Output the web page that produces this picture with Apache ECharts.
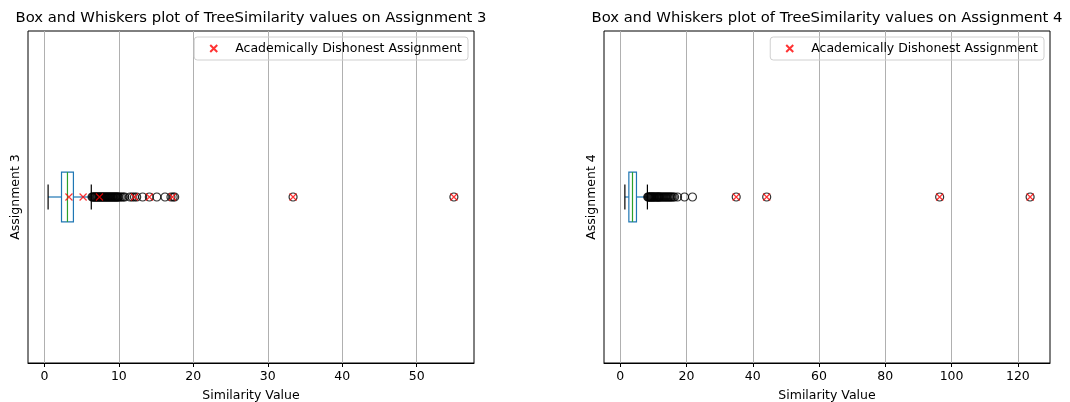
<!DOCTYPE html>
<html>
<head>
<meta charset="utf-8">
<script src="https://cdn.jsdelivr.net/npm/echarts@6/dist/echarts.min.js"></script>
<style>
  html, body { margin: 0; padding: 0; background: #fff; }
  #main { width: 1070px; height: 402px; }
</style>
</head>
<body>
<div id="main"></div>
<script>
// box stats: [lower cap, q1, median, q3, upper cap]
const a3Box = [0.5, 2.3, 3.1, 3.9, 6.3];
const a4Box = [1.4, 2.6, 3.7, 4.9, 8.2];

// fliers beyond the whiskers
const a3Outliers = [6.4, 6.5, 6.6, 6.7, 6.8, 6.9, 7.0, 7.1, 7.2, 7.3, 7.4, 7.5, 7.6, 7.7, 7.8, 7.9,
  8.0, 8.1, 8.2, 8.3, 8.4, 8.5, 8.6, 8.7, 8.8, 8.9, 9.0, 9.1, 9.2, 9.3, 9.4, 9.5, 9.6, 9.7, 9.8, 9.9,
  10.0, 10.2, 10.4, 10.6, 10.8, 11.5, 11.8, 12.1, 12.4, 13.2, 14.1, 15.1, 16.2, 17.0, 17.3, 17.5, 33.4, 55.0];
const a4Outliers = [8.3, 8.5, 8.7, 8.9, 9.1, 9.3, 9.5, 9.7, 9.9, 10.1, 10.3, 10.5, 10.8, 11.0, 11.2,
  11.4, 11.6, 11.8, 12.0, 12.3, 12.6, 12.9, 13.2, 13.5, 13.8, 14.1, 14.4, 14.7, 15.0, 15.3, 15.6,
  16.0, 16.4, 17.3, 19.4, 21.8, 35.0, 44.2, 96.4, 123.7];

// academically dishonest assignments
const a3Flagged = [3.3, 5.2, 7.4, 12.1, 14.1, 17.2, 33.4, 55.0];
const a4Flagged = [35.0, 44.2, 96.4, 123.7];

// tick labels
const a3Ticks = [0, 10, 20, 30, 40, 50];
const a4Ticks = [0, 20, 40, 60, 80, 100, 120];

const FONT = "DejaVu Sans";
const CROSS = "path://M0,0L10,10M0,10L10,0";
const LEGEND_NAME = "Academically Dishonest Assignment";

function renderBox(params, api) {
  const s = [0, 1, 2, 3, 4].map(i => api.value(i));
  const yTop = api.coord([0, 1.075])[1];
  const yBot = api.coord([0, 0.925])[1];
  const cTop = api.coord([0, 1.0375])[1];
  const cBot = api.coord([0, 0.9625])[1];
  const yMid = api.coord([0, 1])[1];
  const x = s.map(v => api.coord([v, 1])[0]);
  const line = (x1, y1, x2, y2, color) => ({
    type: "line",
    shape: { x1, y1, x2, y2 },
    style: { stroke: color, lineWidth: 1.2 }
  });
  return {
    type: "group",
    children: [
      line(x[0], yMid, x[1], yMid, "#1f77b4"),
      line(x[3], yMid, x[4], yMid, "#1f77b4"),
      line(x[0], cTop, x[0], cBot, "#000"),
      line(x[4], cTop, x[4], cBot, "#000"),
      {
        type: "rect",
        shape: { x: x[1], y: yTop, width: x[3] - x[1], height: yBot - yTop },
        style: { fill: "none", stroke: "#1f77b4", lineWidth: 1.2 }
      },
      line(x[2], yTop, x[2], yBot, "#2ca02c")
    ]
  };
}

function panel(idx, box, outliers, flagged, ticks, min, max) {
  return {
    grid: {
      left: idx === 0 ? 28 : 604,
      width: 446,
      top: 31,
      height: 332,
      outerBoundsMode: "none",
      containLabel: false,
      show: true,
      borderColor: "#000",
      borderWidth: 1
    },
    xAxis: {
      type: "value",
      gridIndex: idx,
      min: min,
      max: max,
      name: "Similarity Value",
      nameLocation: "middle",
      nameGap: 26,
      nameTextStyle: { fontFamily: FONT, fontSize: 12.5, color: "#000" },
      axisLine: { lineStyle: { color: "#000" } },
      axisTick: { show: true, length: 4, customValues: ticks, lineStyle: { color: "#000" } },
      axisLabel: { customValues: ticks, margin: 7, fontFamily: FONT, fontSize: 12.5, color: "#000" },
      splitLine: { show: true, lineStyle: { color: "#b0b0b0", width: 1 } }
    },
    yAxis: {
      type: "value",
      gridIndex: idx,
      min: 0.5,
      max: 1.5,
      name: "Assignment " + (idx + 3),
      nameLocation: "middle",
      nameGap: 6,
      nameTextStyle: { fontFamily: FONT, fontSize: 12.5, color: "#000" },
      axisLine: { show: false },
      axisTick: { show: false },
      axisLabel: { show: false },
      splitLine: { show: false }
    },
    series: [
      {
        type: "custom",
        xAxisIndex: idx,
        yAxisIndex: idx,
        renderItem: renderBox,
        data: [box],
        encode: { x: [0, 1, 2, 3, 4] },
        silent: true,
        z: 2
      },
      {
        type: "scatter",
        xAxisIndex: idx,
        yAxisIndex: idx,
        data: outliers.map(v => [v, 1]),
        symbol: "circle",
        symbolSize: 8,
        itemStyle: { color: "rgba(0,0,0,0)", borderColor: "#000", borderWidth: 1.2 },
        z: 3
      },
      {
        type: "scatter",
        name: LEGEND_NAME,
        xAxisIndex: idx,
        yAxisIndex: idx,
        data: flagged.map(v => [v, 1]),
        symbol: CROSS,
        symbolSize: 7,
        itemStyle: { color: "rgba(0,0,0,0)", borderColor: "#ff0000", borderWidth: 1.2 },
        z: 4
      }
    ]
  };
}

const p3 = panel(0, a3Box, a3Outliers, a3Flagged, a3Ticks, -2.2, 57.7);
const p4 = panel(1, a4Box, a4Outliers, a4Flagged, a4Ticks, -4.9, 129.7);

const legendBase = {
  data: [LEGEND_NAME],
  top: 37,
  orient: "horizontal",
  itemWidth: 7,
  itemHeight: 7,
  padding: [5, 6, 5, 15],
  borderColor: "#d0d0d0",
  borderWidth: 1,
  borderRadius: 3,
  selectedMode: false,
  textStyle: { fontFamily: FONT, fontSize: 12.5, color: "#000", padding: [0, 0, 0, 13] }
};

const option = {
  animation: false,
  backgroundColor: "#fff",
  title: [
    {
      text: "Box and Whiskers plot of TreeSimilarity values on Assignment 3",
      left: 246,
      top: 6,
      textAlign: "center",
      textStyle: { fontFamily: FONT, fontSize: 14.8, fontWeight: "normal", color: "#000" }
    },
    {
      text: "Box and Whiskers plot of TreeSimilarity values on Assignment 4",
      left: 822,
      top: 6,
      textAlign: "center",
      textStyle: { fontFamily: FONT, fontSize: 14.8, fontWeight: "normal", color: "#000" }
    }
  ],
  legend: [
    Object.assign({}, legendBase, { right: 1070 - 468 }),
    Object.assign({}, legendBase, { right: 1070 - 1044 })
  ],
  grid: [p3.grid, p4.grid],
  xAxis: [p3.xAxis, p4.xAxis],
  yAxis: [p3.yAxis, p4.yAxis],
  series: p3.series.concat(p4.series)
};

const chart = echarts.init(document.getElementById("main"));
chart.setOption(option);
</script>
</body>
</html>
